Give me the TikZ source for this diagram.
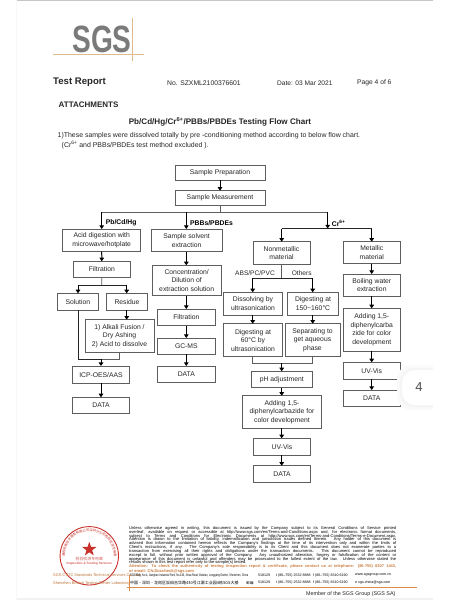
\documentclass[tikz,border=0pt]{standalone}
\usepackage{fontspec}
\setmainfont{Liberation Sans}
\newfontfamily\cjkf{Noto Sans CJK SC}
\usetikzlibrary{arrows.meta,decorations.text,shapes.geometric}
\definecolor{ink}{HTML}{262626}
\definecolor{edge}{HTML}{5E5E5E}
\definecolor{tan}{HTML}{E0B98C}
\definecolor{orng}{HTML}{E08A45}
\definecolor{sealred}{HTML}{C8322B}
\tikzset{
  flowbox/.style={draw=edge,line width=.75pt,inner sep=0pt,outer sep=0pt,align=center,font=\fontsize{6.8}{8.6}\selectfont,text=ink},
  arr/.style={draw=black,line width=1pt,-{Triangle[length=3.6pt,width=4.6pt]}},
  wire/.style={draw=edge,line width=.8pt},
  darkwire/.style={draw=black!85,line width=1pt},
  branch/.style={font=\fontsize{6.8}{7}\selectfont\bfseries,text=black,anchor=west,inner sep=0pt},
  note/.style={font=\fontsize{6.6}{7}\selectfont,text=ink,inner sep=0pt},
  hdr/.style={anchor=west,inner sep=0pt,text=ink},
  legal/.style={anchor=north west,inner sep=0pt,text=black,font=\fontsize{4.05}{3.85}\selectfont},
  addr/.style={anchor=west,inner sep=0pt,text=black,font=\fontsize{3.6}{4}\selectfont},
}
\newcommand{\bx}[6]{\node[flowbox,minimum width={(#4-#2)*1pt},minimum height={(#5-#3)*1pt}] (#1) at ({(#2+#4)/2},{(#3+#5)/2}) {#6};}
\newcommand{\lgl}[2]{\node[legal] at (129,#1) {\makebox[267pt][s]{#2}};}
\begin{document}
\begin{tikzpicture}[x=1pt,y=-1pt]
\useasboundingbox (0,0) rectangle (450,600);
\fill[white] (0,0) rectangle (450,600);
% page edges
\fill[black!22] (17,0) rectangle (433,1.2);
\fill[black!5] (17,597.5) rectangle (433,600);
\fill[black!3] (15.5,0) rectangle (17,600);
% logo
\node[font=\fontsize{38}{38}\selectfont\bfseries,text=black!52,xscale=.74,inner sep=0pt] (sgs) at (102,39.5) {SGS};
\draw[tan,line width=.7pt] (53,54.3) -- (144,54.3);
\draw[tan,line width=.7pt] (132,18) -- (132,61);
% header
\node[hdr,font=\fontsize{9.6}{10}\selectfont] (tr) at (53,82) {\textbf{Test Report}};
\node[hdr,font=\fontsize{6.8}{7}\selectfont] (no) at (167,83) {No. SZXML2100376601};
\node[hdr,font=\fontsize{6.6}{7}\selectfont] (dt) at (277,83) {Date: 03 Mar 2021};
\node[hdr,font=\fontsize{6.7}{7}\selectfont] (pg) at (357,83) {Page 4 of 6};
\node[hdr,font=\fontsize{8}{8}\selectfont\bfseries] (att) at (58.5,104.7) {ATTACHMENTS};
\node[inner sep=0pt,text=ink,font=\fontsize{8.1}{9}\selectfont\bfseries] (ttl) at (220,121.5) {Pb/Cd/Hg/Cr\textsuperscript{6+}/PBBs/PBDEs Testing Flow Chart};
\node[hdr,font=\fontsize{6.95}{7}\selectfont] (l1) at (57.5,136) {1)These samples were dissolved totally by pre -conditioning method according to below flow chart.};
\node[hdr,font=\fontsize{6.95}{7}\selectfont] (l2) at (61.5,145.3) {(Cr\textsuperscript{6+} and PBBs/PBDEs test method excluded ).};
% boxes
\bx{prep}{175}{165.3}{265}{180}{Sample Preparation}
\bx{meas}{175}{190.7}{265}{205.7}{Sample Measurement}
\bx{acid}{62.7}{229}{140.7}{251.7}{Acid digestion with\\microwave/hotplate}
\bx{filta}{73.3}{261.3}{130.3}{277.7}{Filtration}
\bx{soln}{57.3}{293.3}{98.3}{310}{Solution}
\bx{resi}{106.7}{293.3}{147.3}{310}{Residue}
\bx{alk}{85}{319.7}{154}{352.3}{1) Alkali Fusion /\\Dry Ashing\\2) Acid to dissolve}
\bx{icp}{72.7}{366}{129.3}{383.3}{ICP-OES/AAS}
\bx{dataa}{72.7}{397.3}{129.3}{413.7}{DATA}
\bx{solv}{151}{229}{222.3}{251.7}{Sample solvent\\extraction}
\bx{conc}{152.3}{265.3}{221}{295.7}{Concentration/\\Dilution of\\extraction solution}
\bx{filtb}{157.7}{309}{215}{325.7}{Filtration}
\bx{gc}{157.7}{338}{215}{354.3}{GC-MS}
\bx{datab}{157.7}{366}{215}{382.7}{DATA}
\bx{nonm}{253}{241.7}{310}{264.3}{Nonmetallic\\material}
\bx{metal}{343.3}{241.7}{400.3}{263.7}{Metallic\\material}
\bx{diss}{223.3}{292.3}{282.7}{315}{Dissolving by\\ultrasonication}
\bx{dig}{287.7}{292.3}{338.3}{315}{Digesting at\\150\textasciitilde160°C}
\bx{dsix}{223.3}{323.7}{282.7}{356.7}{Digesting at\\60°C by\\ultrasonication}
\bx{sep}{285}{323.7}{340}{356.7}{Separating to\\get aqueous\\phase}
\bx{ph}{251.3}{371.3}{312.3}{387.7}{pH adjustment}
\bx{addc}{242.7}{395.7}{321.3}{428}{Adding 1,5-\\diphenylcarbazide for\\color development}
\bx{uvc}{253.7}{438.3}{310.3}{455}{UV-Vis}
\bx{datac}{253.7}{465.7}{310.3}{482.3}{DATA}
\bx{boil}{343.3}{274}{400.3}{296.3}{Boiling water\\extraction}
\bx{addd}{343.3}{308.3}{400.3}{351}{Adding 1,5-\\diphenylcarba\\zide for color\\development}
\bx{uvd}{343.3}{362.3}{400.3}{379}{UV-Vis}
\bx{datad}{343.3}{390}{400.3}{406.7}{DATA}
% junctions
\coordinate (jm) at (meas.south |- 0,212.3);
\coordinate (ja) at (101.7,212.3);
\coordinate (jb) at (186.3,212.3);
\coordinate (jc) at (327.7,212.3);
\coordinate (jc2) at (327.7,228.5);
\coordinate (jcl) at (281.7,228.5);
\coordinate (jcr) at (371.7,228.5);
\coordinate (jf) at (101.7,285);
\coordinate (jfl) at (78,285);
\coordinate (jfr) at (126.7,285);
\coordinate (jn) at (281.7,278.3);
\coordinate (jnl) at (252.7,278.3);
\coordinate (jnr) at (312.7,278.3);
\coordinate (ji) at (101,359);
\coordinate (jil) at (78,359);
\coordinate (jir) at (119.3,359);
\coordinate (jp) at (281.7,363.3);
\coordinate (jpl) at (252.7,363.3);
\coordinate (jpr) at (312.7,363.3);
% connectors
\draw[arr] (prep) -- (meas);
\draw[wire] (meas.south) -- (jm);
\draw[wire] (ja) -- (jc);
\draw[arr] (ja) -- (acid.north);
\draw[arr] (jb) -- (jb |- solv.north);
\draw[arr] (jc) -- (jc2);
\draw[darkwire] (jcl) -- (jcr);
\draw[arr] (jcl) -- (nonm.north -| jcl);
\draw[arr] (jcr) -- (metal.north -| jcr);
\draw[arr] (acid) -- (filta);
\draw[wire] (filta.south) -- (jf);
\draw[darkwire] (jfl) -- (jfr);
\draw[arr] (jfl) -- (jfl |- soln.north);
\draw[arr] (jfr) -- (jfr |- resi.north);
\draw[arr] (jfr |- resi.south) -- (jfr |- alk.north);
\draw[darkwire] (jfl |- soln.south) -- (jil) -- (ji);
\draw[wire] (ji) -- (jir) -- (jir |- alk.south);
\draw[arr] (ji) -- (ji |- icp.north);
\draw[arr] (icp) -- (dataa);
\draw[arr] (solv.south -| jb) -- (jb |- conc.north);
\draw[arr] (jb |- conc.south) -- (jb |- filtb.north);
\draw[arr] (jb |- filtb.south) -- (jb |- gc.north);
\draw[arr] (jb |- gc.south) -- (jb |- datab.north);
\draw[wire] (nonm.south -| jn) -- (jn);
\draw[darkwire] (jnl) -- (jnr);
\draw[arr] (jnl) -- (jnl |- diss.north);
\draw[arr] (jnr) -- (jnr |- dig.north);
\draw[arr] (jnl |- diss.south) -- (jnl |- dsix.north);
\draw[arr] (jnr |- dig.south) -- (jnr |- sep.north);
\draw[wire] (jpl |- dsix.south) -- (jpl) -- (jpr) -- (jpr |- sep.south);
\draw[arr] (jp) -- (jp |- ph.north);
\draw[arr] (jp |- ph.south) -- (jp |- addc.north);
\draw[arr] (jp |- addc.south) -- (jp |- uvc.north);
\draw[arr] (jp |- uvc.south) -- (jp |- datac.north);
\draw[arr] (jcr |- metal.south) -- (jcr |- boil.north);
\draw[arr] (jcr |- boil.south) -- (jcr |- addd.north);
\draw[arr] (jcr |- addd.south) -- (jcr |- uvd.north);
\draw[arr] (jcr |- uvd.south) -- (jcr |- datad.north);
% branch labels
\node[branch] (lpb) at (105.7,223) {Pb/Cd/Hg};
\node[branch] (lbb) at (190,223.5) {PBBs/PBDEs};
\node[branch] (lcr) at (331.7,223) {Cr\textsuperscript{6+}};
\node[note] (labs) at (255,272.7) {ABS/PC/PVC};
\node[note] (loth) at (301.7,272.7) {Others};
% side tab
\foreach \g/\w in {1.5/5,2.5/3.5,4/2}{\fill[black!\g,rounded corners=14pt] (402-\w,370-\w) rectangle (450,405+\w);}
\fill[white,rounded corners=13pt] (402,370) rectangle (450,405);
\fill[white] (433,360) rectangle (450,415);
\node[inner sep=0pt,font=\fontsize{13}{14}\selectfont,text=black!70] (tab) at (419,387.5) {4};
% seal
\begin{scope}[shift={(89.3,555.8)},y=1pt]
\draw[sealred,line width=.9pt] (0,0) circle (29.2);
\node[star,star points=5,star point ratio=2.5,fill=sealred,inner sep=0pt,minimum size=15pt] (star) at (0,6.5) {};
\path[decorate,decoration={text along path,text align=center,text color=sealred,text={|\cjkf\fontsize{3.3}{4}\selectfont|通标标准技术服务有限公司深圳分公司检验检测专用章}}] (200:24.5) arc[start angle=200,end angle=-20,radius=24.5];
\node[inner sep=0pt,text=sealred!80,font=\cjkf\fontsize{3.9}{5}\selectfont] (sl1) at (0,-3) {检验检测专用章};
\node[inner sep=0pt,text=sealred!80,font=\fontsize{3.2}{4}\selectfont\bfseries] (sl2) at (0,-8.3) {Inspection \& Testing Services};
\end{scope}
\node[anchor=west,inner sep=0pt,text=orng!85!black,font=\fontsize{3.9}{5}\selectfont] (co1) at (53,575.7) {SGS-CSTC Standards Technical Services Co., Ltd.};
\node[anchor=west,inner sep=0pt,text=orng!85!black,font=\fontsize{3.9}{5}\selectfont] (co2) at (53,583.5) {Shenzhen Branch Testing Center Laboratory};
% legal
\lgl{526.2}{Unless otherwise agreed in writing, this document is issued by the Company subject to its General Conditions of Service printed}
\lgl{530.05}{overleaf, available on request or accessible at http://www.sgs.com/en/Terms-and-Conditions.aspx and, for electronic format documents,}
\lgl{533.9}{subject to Terms and Conditions for Electronic Documents at http://www.sgs.com/en/Terms-and-Conditions/Terms-e-Document.aspx.}
\lgl{537.75}{Attention is drawn to the limitation of liability, indemnification and jurisdiction issues defined therein. Any holder of this document is}
\lgl{541.6}{advised that information contained hereon reflects the Company's findings at the time of its intervention only and within the limits of}
\lgl{545.45}{Client's instructions, if any. The Company's sole responsibility is to its Client and this document does not exonerate parties to a}
\lgl{549.3}{transaction from exercising all their rights and obligations under the transaction documents. This document cannot be reproduced}
\lgl{553.15}{except in full, without prior written approval of the Company. Any unauthorized alteration, forgery or falsification of the content or}
\lgl{557}{appearance of this document is unlawful and offenders may be prosecuted to the fullest extent of the law. Unless otherwise stated the}
\node[legal] at (129,560.85) {results shown in this test report refer only to the sample(s) tested.};
\node[legal,text=orng!90!black,font=\fontsize{3.95}{4}\selectfont\bfseries] at (129,564.9) {\makebox[267pt][s]{Attention: To check the authenticity of testing /inspection report \& certificate, please contact us at telephone: (86-755) 8307 1443,}};
\node[legal,text=orng!90!black,font=\fontsize{4.05}{4}\selectfont\bfseries] at (129,569.2) {or email: CN.Doccheck@sgs.com};
% address
\node[addr,xscale=.68] at (130,575.3) {SGS Bldg, No.4, Jianghao Industrial Park, No.430, Jihua Road, Bantian, Longgang District, Shenzhen, China};
\node[addr] at (258,575.3) {518129};
\node[addr] at (276,575.3) {t (86–755) 2532 8888};
\node[addr] at (313,575.3) {f (86–755) 8310 6190};
\node[addr] at (355,575.3) {www.sgsgroup.com.cn};
\node[addr,font=\cjkf\fontsize{4}{5}\selectfont] at (130,582.7) {中国・深圳・龙岗区坂田吉华路430号江灏工业园4栋SGS大楼};
\node[addr,font=\cjkf\fontsize{3.6}{5}\selectfont] at (246,582.7) {邮编:};
\node[addr] at (258,582.7) {518129};
\node[addr] at (276,582.7) {t (86–755) 2532 8888};
\node[addr] at (313,582.7) {f (86–755) 8310 6190};
\node[addr] at (355,582.7) {e sgs.china@sgs.com};
\draw[orng,line width=.7pt] (126.7,587.3) -- (416.7,587.3);
\draw[orng,line width=.7pt] (129,575) -- (129,590.5);
\node[anchor=east,inner sep=0pt,text=ink,font=\fontsize{5.4}{6}\selectfont] (mem) at (395.7,594.3) {Member of the SGS Group (SGS SA)};
\end{tikzpicture}
\end{document}
